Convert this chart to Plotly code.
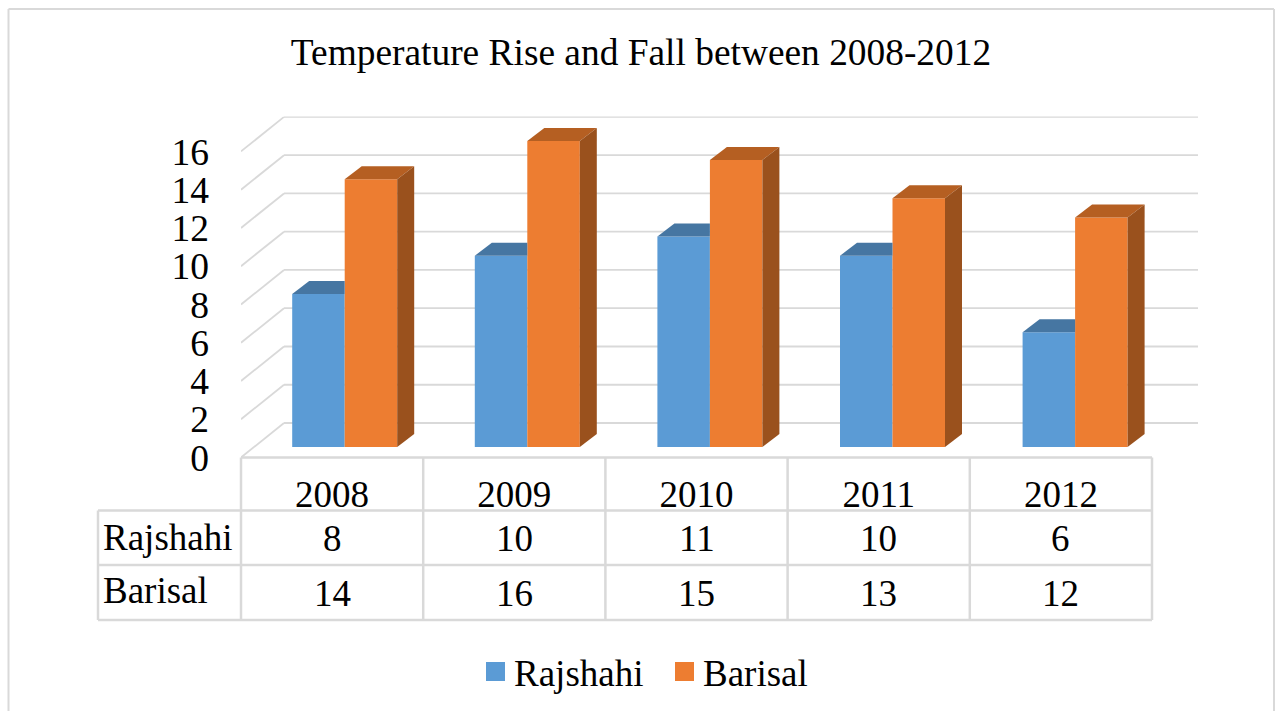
import plotly.graph_objects as go

# ---- data ----
years = ["2008", "2009", "2010", "2011", "2012"]
rajshahi = [8, 10, 11, 10, 6]
barisal = [14, 16, 15, 13, 12]
y_ticks = [0, 2, 4, 6, 8, 10, 12, 14, 16]
title_text = "Temperature Rise and Fall between 2008-2012"

# ---- layout constants ----
W, H = 1282, 711
FONT = "Liberation Serif"
GRID = "#D9D9D9"
BLUE, BLUE_TOP = "#5B9BD5", "#4676A2"
ORANGE, ORANGE_TOP, ORANGE_SIDE = "#ED7D31", "#B55F22", "#9A511D"
PX_X = 182.2            # pixels per category
PX_Y = 19.13            # pixels per value unit
LEFT, FLOOR, RIGHT, TOP = 241, 457.5, 1198, 116.5
BAR_SPREAD = 182.6 / PX_X  # bar groups are spaced a touch wider than the table columns
BAR_W = 52.5 / PX_X
BAR_SHIFT = 12.6 / PX_X   # bars sit towards the depth of the box
BAR_LIFT = 10.5 / PX_Y    # bars stand a little behind the front of the floor
DEPTH_X, DEPTH_Y = 17 / PX_X, 13 / PX_Y      # depth of a bar
WALL_X, WALL_Y = 43 / PX_X, 34.5 / PX_Y      # depth of the box

x_min = -0.5
x_max = x_min + (RIGHT - LEFT) / PX_X
y_max = (FLOOR - TOP) / PX_Y
n = len(years)
bar_x = [i * BAR_SPREAD for i in range(n)]


def px(v):
    return v / W


def py(v):
    return 1 - v / H


fig = go.Figure()

# front faces of the bars
fig.add_trace(go.Bar(x=bar_x, y=rajshahi, base=BAR_LIFT, name="Rajshahi",
                     width=BAR_W, offset=BAR_SHIFT - BAR_W, marker=dict(color=BLUE, line_width=0)))
fig.add_trace(go.Bar(x=bar_x, y=barisal, base=BAR_LIFT, name="Barisal",
                     width=BAR_W, offset=BAR_SHIFT, marker=dict(color=ORANGE, line_width=0)))


def face(xs, ys, color):
    fig.add_trace(go.Scatter(x=xs, y=ys, mode="lines", fill="toself", fillcolor=color,
                             line=dict(width=0, color=color), hoverinfo="skip", showlegend=False))


# 3D faces of the bars, derived from the values
for c, a, b in zip(bar_x, rajshahi, barisal):
    xl = c + BAR_SHIFT - BAR_W
    xm = c + BAR_SHIFT
    xr = xm + BAR_W
    ya = a + BAR_LIFT
    yb = b + BAR_LIFT
    face([xl, xm, xm, xl + DEPTH_X, xl], [ya, ya, ya + DEPTH_Y, ya + DEPTH_Y, ya], BLUE_TOP)
    face([xm, xr, xr + DEPTH_X, xm + DEPTH_X, xm], [yb, yb, yb + DEPTH_Y, yb + DEPTH_Y, yb], ORANGE_TOP)
    face([xr, xr + DEPTH_X, xr + DEPTH_X, xr, xr],
         [BAR_LIFT, BAR_LIFT + DEPTH_Y, yb + DEPTH_Y, yb, BAR_LIFT], ORANGE_SIDE)

shapes = []
# gridlines on the back wall and the left wall
for t in y_ticks:
    shapes.append(dict(type="line", xref="x", yref="y", layer="below",
                       x0=x_min, y0=t, x1=x_min + WALL_X, y1=t + WALL_Y,
                       line=dict(color=GRID, width=1.8)))
    shapes.append(dict(type="line", xref="x", yref="y", layer="below",
                       x0=x_min + WALL_X, y0=t + WALL_Y, x1=x_max, y1=t + WALL_Y,
                       line=dict(color=GRID, width=1.8)))

# outer frame of the chart
for x0, y0, x1, y1 in [(8.5, H, 8.5, 9), (8.5, 9, 1274, 9), (1274, 9, 1274, H)]:
    shapes.append(dict(type="line", xref="paper", yref="paper",
                       x0=px(x0), y0=py(y0), x1=px(x1), y1=py(y1),
                       line=dict(color=GRID, width=2)))

# data table rules
ROWS = [457.5, 510.5, 565, 620]
TABLE_L = 98
TABLE_R = LEFT + n * PX_X
for k in range(n + 1):
    shapes.append(dict(type="line", xref="paper", yref="paper",
                       x0=px(LEFT + k * PX_X), x1=px(LEFT + k * PX_X), y0=py(ROWS[0]), y1=py(ROWS[3]),
                       line=dict(color=GRID, width=2.5)))
shapes.append(dict(type="line", xref="paper", yref="paper", x0=px(LEFT), x1=px(TABLE_R),
                   y0=py(ROWS[0]), y1=py(ROWS[0]), line=dict(color=GRID, width=2.5)))
for r in ROWS[1:]:
    shapes.append(dict(type="line", xref="paper", yref="paper", x0=px(TABLE_L),
                       x1=px(TABLE_R), y0=py(r), y1=py(r), line=dict(color=GRID, width=2.5)))
shapes.append(dict(type="line", xref="paper", yref="paper", x0=px(TABLE_L), x1=px(TABLE_L),
                   y0=py(ROWS[1]), y1=py(ROWS[3]), line=dict(color=GRID, width=2.5)))

# legend swatches
shapes.append(dict(type="rect", xref="paper", yref="paper", x0=px(486), x1=px(505),
                   y0=py(681), y1=py(662), fillcolor=BLUE, line_width=0))
shapes.append(dict(type="rect", xref="paper", yref="paper", x0=px(675), x1=px(694),
                   y0=py(681), y1=py(662), fillcolor=ORANGE, line_width=0))


def label(text, x, y, xref="paper", anchor="center"):
    return dict(text=text, x=x, y=py(y), xref=xref, yref="paper", xanchor=anchor, yanchor="middle",
                showarrow=False, font=dict(family=FONT, size=37, color="#000000"))


annotations = [
    label("Rajshahi", px(101), 537, anchor="left"),
    label("Barisal", px(101), 590, anchor="left"),
    label("Rajshahi", px(512), 673, anchor="left"),
    label("Barisal", px(701), 673, anchor="left"),
]
for i in range(n):
    annotations.append(label(str(rajshahi[i]), i, 538, xref="x"))
    annotations.append(label(str(barisal[i]), i, 593, xref="x"))

fig.update_layout(
    template="none",
    width=W, height=H, autosize=False,
    margin=dict(l=0, r=0, t=0, b=0, pad=0),
    paper_bgcolor="#FFFFFF", plot_bgcolor="rgba(0,0,0,0)",
    showlegend=False,
    title=dict(text=title_text, x=0.5, xanchor="center", xref="paper", y=py(52), yanchor="middle", yref="paper",
               font=dict(family=FONT, size=37.4, color="#000000")),
    xaxis=dict(domain=[px(LEFT), px(RIGHT)], range=[x_min, x_max], tickmode="array", automargin=False,
               tickvals=list(range(n)), ticktext=years, showgrid=False, zeroline=False,
               showline=False, ticks="", ticklabelstandoff=11, tickangle=0,
               tickfont=dict(family=FONT, size=37, color="#000000")),
    yaxis=dict(domain=[py(FLOOR), py(TOP)], range=[0, y_max], tickmode="array", automargin=False,
               tickvals=y_ticks, showgrid=False, zeroline=False, showline=False, ticks="",
               ticklabelstandoff=31,
               tickfont=dict(family=FONT, size=37.5, color="#000000")),
    shapes=shapes,
    annotations=annotations,
)

fig.write_html("out.html", config={"displayModeBar": False},
               post_script="document.body.style.margin='0';document.body.style.overflow='hidden';")
